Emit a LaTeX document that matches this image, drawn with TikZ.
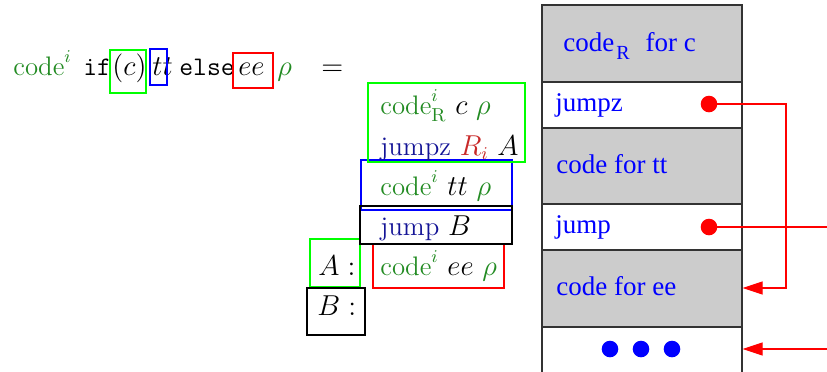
\documentclass[tikz,border=0pt]{standalone}
\usepackage{fontspec}
\newfontfamily\tms{Liberation Serif}
\usetikzlibrary{arrows.meta}
\definecolor{cgreen}{RGB}{34,139,34}
\definecolor{bgreen}{RGB}{0,255,0}
\definecolor{cnavy}{RGB}{20,20,150}
\definecolor{cred}{RGB}{200,40,40}
\begin{document}
\begin{tikzpicture}[x=0.5pt,y=-0.5pt,
  tx/.style={anchor=base west, inner sep=0pt, font=\fontsize{13.4}{16}\selectfont},
  rt/.style={anchor=base west, inner sep=0pt, font=\tms\fontsize{13.5}{16}\selectfont, text=blue},
  row/.style={draw=black!80, line width=0.8pt, minimum width=100pt, inner sep=0pt, anchor=north west},
  grayrow/.style={row, fill=black!20},
  frame/.style={line width=1pt},
  rdot/.style={circle, fill=red, inner sep=0pt, minimum size=8.3pt},
  bdot/.style={circle, fill=blue, inner sep=0pt, minimum size=8.3pt},
  link/.style={red, line width=0.6pt},
  tip/.style={-{Triangle[length=10pt,width=6.5pt]}}]
\clip (0,0) rectangle (827,371);

% ---- source expression ----
\node[tx] (f1) at (13,75) {$\color{cgreen}\mathrm{code}^i$};
\node[tx] (f2) at (83,75) {\texttt{if}};
\node[tx] (f3) at (112,75) {$(c)$};
\node[tx] (f4) at (152,75) {$tt$};
\node[tx] (f5) at (179,75) {\texttt{else}};
\node[tx] (f6) at (238,75) {$ee$};
\node[tx] (f7) at (277,75) {$\color{cgreen}\rho$};
\node[tx] (f8) at (321,75) {$=$};
\draw[frame, draw=bgreen] (110,50) rectangle (146,93);
\draw[frame, draw=blue] (150,49) rectangle (167,85);
\draw[frame, draw=red] (233,53) rectangle (273,88);

% ---- translation scheme ----
\draw[frame, draw=red] (373,244) rectangle (504,288);
\draw[frame, draw=bgreen] (310,239) rectangle (360,287);
\draw[frame, draw=black] (307,288) rectangle (365,335);
\draw[frame, draw=blue] (361,160) rectangle (512,210);
\draw[frame, draw=black] (360,206) rectangle (512,244);
\draw[frame, draw=bgreen] (368,83) rectangle (525,162);

\node[tx] (m1) at (380,114) {$\color{cgreen}\mathrm{code}^i_{\mathrm{R}}$ $c$ $\color{cgreen}\rho$};
\node[tx] (m2) at (380,155) {\textcolor{cnavy}{jumpz} $\color{cred}R_i$ $A$};
\node[tx] (m3) at (380,195) {$\color{cgreen}\mathrm{code}^i$ $tt$ $\color{cgreen}\rho$};
\node[tx] (m4) at (380,235) {\textcolor{cnavy}{jump} $B$};
\node[tx] (m5) at (380,275) {$\color{cgreen}\mathrm{code}^i$ $ee$ $\color{cgreen}\rho$};
\node[tx] (la) at (318,275) {$A:$};
\node[tx] (lb) at (317,315) {$B:$};

% ---- code layout ----
\node[grayrow, minimum height=38.5pt] (r1) at (541,4) {};
\node[row, minimum height=23pt] (r2) at (541,81) {};
\node[grayrow, minimum height=38pt] (r3) at (541,127) {};
\node[row, minimum height=23pt] (r4) at (541,203) {};
\node[grayrow, minimum height=38.5pt] (r5) at (541,249) {};
\node[row, minimum height=23pt] (r6) at (541,326) {};

\node[rt] (t1) at (563,51) {code\raisebox{-4pt}{\fontsize{10}{12}\selectfont\hspace{1pt}R}\hspace{8pt}for c};
\node[rt] (t2) at (555,111) {jumpz};
\node[rt] (t3) at (556,173) {code for tt};
\node[rt] (t4) at (555,233) {jump};
\node[rt] (t5) at (556,295) {code for ee};

\node[bdot] (b1) at (610,349) {};
\node[bdot] (b2) at (641,349) {};
\node[bdot] (b3) at (672,349) {};

\node[rdot] (d1) at (709,104) {};
\node[rdot] (d2) at (709,227) {};

% ---- jumps ----
\coordinate (k1) at (786,104);
\coordinate (k2) at (786,288);
\coordinate (e2) at (830,227);
\coordinate (e3) at (830,349);
\draw[link, tip] (d1.center) -- (k1) -- (k2) -- (r5.east |- k2);
\draw[link] (d2.center) -- (e2);
\draw[link, tip] (e3) -- (r6.east |- e3);
\end{tikzpicture}
\end{document}
